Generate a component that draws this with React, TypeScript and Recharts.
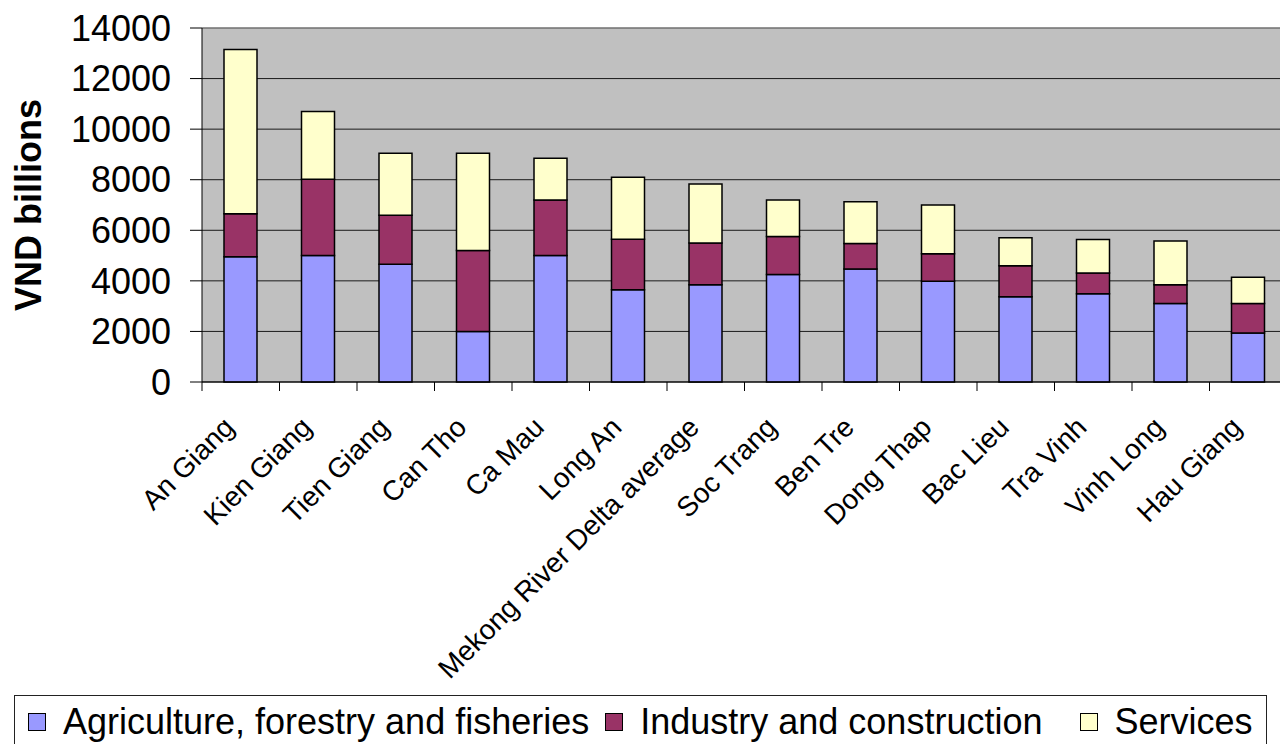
import React from 'react';
import { BarChart, Bar, XAxis, YAxis, CartesianGrid, Legend, ReferenceLine } from 'recharts';

// Gross output by sector, VND billions
const provinces = [
  'An Giang',
  'Kien Giang',
  'Tien Giang',
  'Can Tho',
  'Ca Mau',
  'Long An',
  'Mekong River Delta average',
  'Soc Trang',
  'Ben Tre',
  'Dong Thap',
  'Bac Lieu',
  'Tra Vinh',
  'Vinh Long',
  'Hau Giang',
];
const agriculture = [4950, 5000, 4660, 2000, 5000, 3650, 3850, 4250, 4470, 3980, 3370, 3490, 3100, 1940];
const industry = [1700, 3020, 1930, 3200, 2200, 2000, 1650, 1500, 1010, 1090, 1230, 820, 750, 1160];
const services = [6500, 2680, 2460, 3850, 1650, 2450, 2330, 1450, 1650, 1930, 1100, 1330, 1730, 1040];
const yTicks = [0, 2000, 4000, 6000, 8000, 10000, 12000, 14000];

const seriesKeys = ['agriculture', 'industry', 'services'];
const seriesNames = ['Agriculture, forestry and fisheries', 'Industry and construction', 'Services'];
const seriesColors = ['#9999FF', '#993366', '#FFFFCC'];

const data = provinces.map((name, i) => ({
  name,
  agriculture: agriculture[i],
  industry: industry[i],
  services: services[i],
}));

const FONT = '"Liberation Sans", Arial, Helvetica, sans-serif';
const CHART_W = 1300;
const CHART_H = 744;
const MARGIN = { top: 28, right: 13, left: 0, bottom: 0 };
const Y_AXIS_W = 202;
const BAND = (CHART_W - MARGIN.left - MARGIN.right - Y_AXIS_W) / provinces.length;

// Category label rotated 45° plus a tick mark on the category's left boundary
function ProvinceTick(props: any) {
  const { x, y, payload } = props;
  return (
    <g>
      <line x1={x - BAND / 2} x2={x - BAND / 2} y1={y} y2={y + 9} stroke="#000" strokeWidth={1} />
      <text
        transform={`translate(${x - 5},${y + 47}) rotate(-45)`}
        textAnchor="end"
        fontSize={28}
        fontFamily={FONT}
        fill="#000"
      >
        {payload.value}
      </text>
    </g>
  );
}

function AxisTitle(props: any) {
  const { viewBox } = props;
  const cx = viewBox.x + 28;
  const cy = viewBox.y + viewBox.height / 2;
  return (
    <text
      transform={`translate(${cx},${cy}) rotate(-90)`}
      textAnchor="middle"
      dominantBaseline="central"
      fontSize={36}
      fontWeight="bold"
      fontFamily={FONT}
      fill="#000"
    >
      VND billions
    </text>
  );
}

function SectorLegend() {
  const gaps = [13, 16, 38];
  return (
    <div
      style={{
        boxSizing: 'border-box',
        height: 49,
        border: '1px solid #222',
        borderBottom: 'none',
        display: 'flex',
        alignItems: 'center',
        fontFamily: FONT,
        fontSize: 36,
        color: '#000',
        whiteSpace: 'nowrap',
        paddingTop: 3,
      }}
    >
      {seriesNames.map((name, i) => (
        <div key={name} style={{ display: 'flex', alignItems: 'center', marginLeft: gaps[i] }}>
          <span
            style={{
              display: 'inline-block',
              boxSizing: 'border-box',
              width: 18,
              height: 18,
              background: seriesColors[i],
              border: '1px solid #000',
              marginRight: i === 2 ? 16 : 17,
            }}
          />
          <span style={{ lineHeight: '36px' }}>{name}</span>
        </div>
      ))}
    </div>
  );
}

export default function App() {
  return (
    <div
      style={{
        position: 'absolute',
        left: 0,
        top: 0,
        width: 1280,
        height: 744,
        overflow: 'hidden',
        background: '#fff',
      }}
    >
      <BarChart width={CHART_W} height={CHART_H} data={data} margin={MARGIN} barCategoryGap={0}>
        <CartesianGrid vertical={false} stroke="#1a1a1a" fill="#C0C0C0" fillOpacity={1} />
        <XAxis
          dataKey="name"
          height={313}
          interval={0}
          tickSize={0}
          tickMargin={0}
          tickLine={false}
          axisLine={{ stroke: '#000' }}
          tick={<ProvinceTick />}
        />
        <YAxis
          width={Y_AXIS_W}
          domain={[0, 14000]}
          ticks={yTicks}
          interval={0}
          tickSize={12}
          tickMargin={19}
          axisLine={{ stroke: '#000' }}
          tickLine={{ stroke: '#000' }}
          tick={{ fontSize: 36, fontFamily: FONT, fill: '#000' }}
          label={<AxisTitle />}
        />
        <ReferenceLine y={14000} stroke="#9a9a9a" strokeWidth={1} />
        <Legend
          verticalAlign="bottom"
          content={() => <SectorLegend />}
          wrapperStyle={{ left: 14, width: 1253, height: 49 }}
        />
        {seriesKeys.map((key, i) => (
          <Bar
            key={key}
            dataKey={key}
            name={seriesNames[i]}
            stackId="sector"
            fill={seriesColors[i]}
            stroke="#000"
            strokeWidth={1.5}
            barSize={33}
            isAnimationActive={false}
          />
        ))}
      </BarChart>
    </div>
  );
}
